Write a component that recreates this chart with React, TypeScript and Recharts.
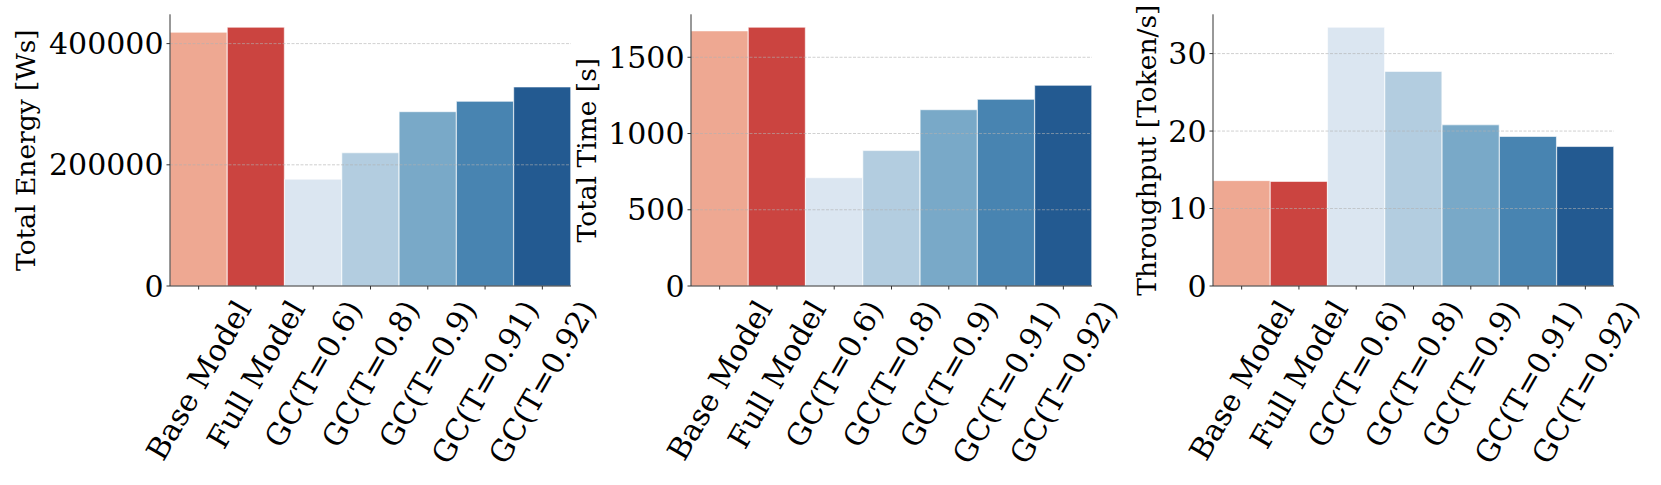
import React from 'react';
import { BarChart, Bar, XAxis, YAxis, Cell, ReferenceLine } from 'recharts';

const categories = ['Base Model', 'Full Model', 'GC(T=0.6)', 'GC(T=0.8)', 'GC(T=0.9)', 'GC(T=0.91)', 'GC(T=0.92)'];
const barColors = ['#eea892', '#cb4440', '#dbe6f1', '#b3cde0', '#79a9c8', '#4884b1', '#235a91'];

const energyValues = [418700, 427000, 176300, 219800, 287600, 304700, 328400];
const timeValues = [1673, 1697, 710, 888, 1156, 1224, 1316];
const throughputValues = [13.6, 13.5, 33.4, 27.7, 20.8, 19.3, 18.0];

const energyTicks = [0, 200000, 400000];
const timeTicks = [0, 500, 1000, 1500];
const throughputTicks = [0, 10, 20, 30];

const FONT = '"DejaVu Serif", serif';
const TICK_SIZE = 30;
const LABEL_SIZE = 26.5;
const PLOT_TOP = 14.3;
const PLOT_BOTTOM = 286;
const PLOT_W = 401;
const Y_W = 160;
const H = 485;

let measureCtx: CanvasRenderingContext2D | null = null;
function textWidth(s: string): number {
  if (!measureCtx) {
    measureCtx = document.createElement('canvas').getContext('2d');
  }
  if (!measureCtx) return s.length * TICK_SIZE * 0.6;
  measureCtx.font = `${TICK_SIZE}px "DejaVu Serif"`;
  return measureCtx.measureText(s).width;
}

// matplotlib-style rotated label: rotation 60, ha=center, va=top
function XTick(props: any) {
  const { x, y, payload } = props;
  const L = textWidth(String(payload.value));
  const h = TICK_SIZE * 1.164;
  const a = (60 * Math.PI) / 180;
  const boxH = L * Math.sin(a) + h * Math.cos(a);
  const cy = y + boxH / 2;
  return (
    <text
      x={x}
      y={cy}
      textAnchor="middle"
      dominantBaseline="central"
      transform={`rotate(-60, ${x}, ${cy})`}
      fontFamily={FONT}
      fontSize={TICK_SIZE}
      fill="#000"
    >
      {payload.value}
    </text>
  );
}

// recharts passes its own x/y to label content, so use separate prop names
function YLabel({ text, px }: { text: string; px: number }) {
  const cy = (PLOT_TOP + PLOT_BOTTOM) / 2;
  return (
    <text
      x={px}
      y={cy}
      textAnchor="middle"
      transform={`rotate(-90, ${px}, ${cy})`}
      fontFamily={FONT}
      fontSize={LABEL_SIZE}
      fill="#000"
    >
      {text}
    </text>
  );
}

interface PanelProps {
  values: number[];
  ticks: number[];
  label: string;
  plotLeft: number;
  labelX: number;
}

function Panel({ values, ticks, label, plotLeft, labelX }: PanelProps) {
  const data = categories.map((name, i) => ({ name, value: values[i] }));
  const yMax = Math.max(...values) * 1.05;
  const chartLeft = plotLeft - Y_W;
  const rightPad = 40;
  return (
    <div style={{ position: 'absolute', left: chartLeft, top: 0 }}>
      <BarChart
        width={Y_W + PLOT_W + rightPad}
        height={H}
        data={data}
        margin={{ top: PLOT_TOP, right: rightPad, bottom: 0, left: 0 }}
        barCategoryGap={0}
        barGap={0}
      >
        <XAxis
          dataKey="name"
          interval={0}
          height={H - PLOT_BOTTOM}
          tickSize={3.5}
          tickMargin={5}
          tick={<XTick />}
          tickLine={{ stroke: '#333' }}
          axisLine={{ stroke: '#333', strokeWidth: 1 }}
        />
        <XAxis
          xAxisId="top"
          orientation="top"
          dataKey="name"
          height={0}
          tick={false}
          tickLine={false}
          axisLine={{ stroke: '#333', strokeWidth: 1 }}
        />
        <YAxis
          type="number"
          width={Y_W}
          domain={[0, yMax]}
          ticks={ticks}
          allowDataOverflow
          tickSize={3.5}
          tickMargin={3}
          tick={{ fill: '#000', fontSize: TICK_SIZE, fontFamily: FONT }}
          tickLine={{ stroke: '#333' }}
          axisLine={{ stroke: '#333', strokeWidth: 1 }}
          label={<YLabel text={label} px={labelX - chartLeft} />}
        />
        <YAxis
          yAxisId="right"
          orientation="right"
          width={0}
          tick={false}
          tickLine={false}
          axisLine={{ stroke: '#333', strokeWidth: 1 }}
        />
        <Bar dataKey="value" isAnimationActive={false} stroke="#ffffff" strokeWidth={1} strokeOpacity={0.6}>
          {data.map((d, i) => (
            <Cell key={d.name} fill={barColors[i]} />
          ))}
        </Bar>
        {ticks.slice(1).map((t) => (
          <ReferenceLine
            key={t}
            y={t}
            stroke="#b0b0b0"
            strokeOpacity={0.6}
            strokeWidth={1}
            strokeDasharray="3 1.5"
          />
        ))}
      </BarChart>
    </div>
  );
}

export default function App() {
  return (
    <div style={{ position: 'absolute', left: 0, top: 0, width: 1661, height: H, background: '#fff' }}>
      <Panel values={energyValues} ticks={energyTicks} label="Total Energy [Ws]" plotLeft={169.5} labelX={34.5} />
      <Panel values={timeValues} ticks={timeTicks} label="Total Time [s]" plotLeft={691} labelX={596} />
      <Panel values={throughputValues} ticks={throughputTicks} label="Throughput [Token/s]" plotLeft={1212.5} labelX={1155.5} />
    </div>
  );
}
